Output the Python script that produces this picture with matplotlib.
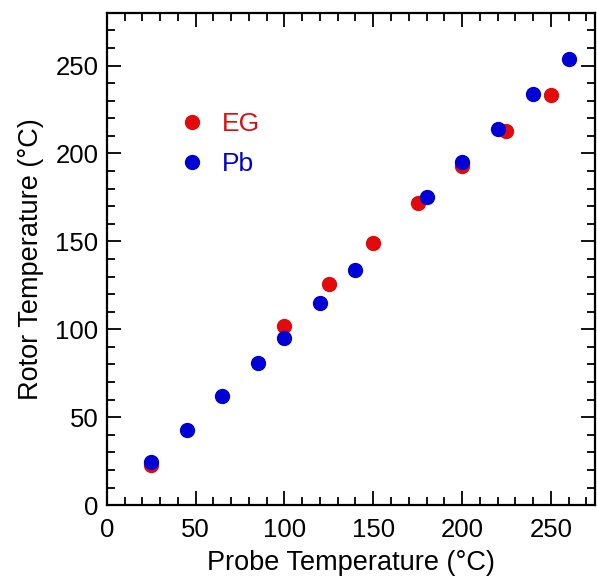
import matplotlib.pyplot as plt
from matplotlib.ticker import MultipleLocator

plt.rcParams['font.family'] = ['Liberation Sans', 'DejaVu Sans']

# EG data
eg_probe = [25, 100, 125, 150, 175, 200, 225, 250]
eg_rotor = [23, 102, 126, 149, 172, 193, 213, 233]

# Pb data
pb_probe = [25, 45, 65, 85, 100, 120, 140, 180, 200, 220, 240, 260]
pb_rotor = [24.5, 43, 62, 81, 95, 115, 134, 175, 195, 214, 234, 254]

red = '#e20a0a'
blue = '#0000d6'

fig = plt.figure(figsize=(5.97, 5.82), dpi=100)
ax = fig.add_axes([0.179, 0.132, 0.818, 0.846])

ax.plot(eg_probe, eg_rotor, 'o', color=red, markersize=10, label='EG')
ax.plot(pb_probe, pb_rotor, 'o', color=blue, markersize=10, label='Pb')

ax.set_xlim(0, 275)
ax.set_ylim(0, 280)
ax.xaxis.set_major_locator(MultipleLocator(50))
ax.xaxis.set_minor_locator(MultipleLocator(10))
ax.yaxis.set_major_locator(MultipleLocator(50))
ax.yaxis.set_minor_locator(MultipleLocator(10))
ax.tick_params(which='both', direction='in', top=True, right=True, width=1.3, labelsize=18.5)
ax.tick_params(axis='x', pad=9)
ax.tick_params(axis='y', pad=6)
ax.tick_params(which='major', length=10)
ax.tick_params(which='minor', length=6)
for s in ax.spines.values():
    s.set_linewidth(1.6)

ax.set_xlabel('Probe Temperature (°C)', fontsize=19.5, labelpad=6)
ax.set_ylabel('Rotor Temperature (°C)', fontsize=19.5, labelpad=8)

ax.legend(loc='center left', bbox_to_anchor=(0.1475, 0.733), frameon=False, fontsize=19,
          labelcolor='linecolor', handlelength=1, handletextpad=0.64, labelspacing=0.62,
          borderpad=0, borderaxespad=0)

fig.savefig('out.png', dpi=100)
